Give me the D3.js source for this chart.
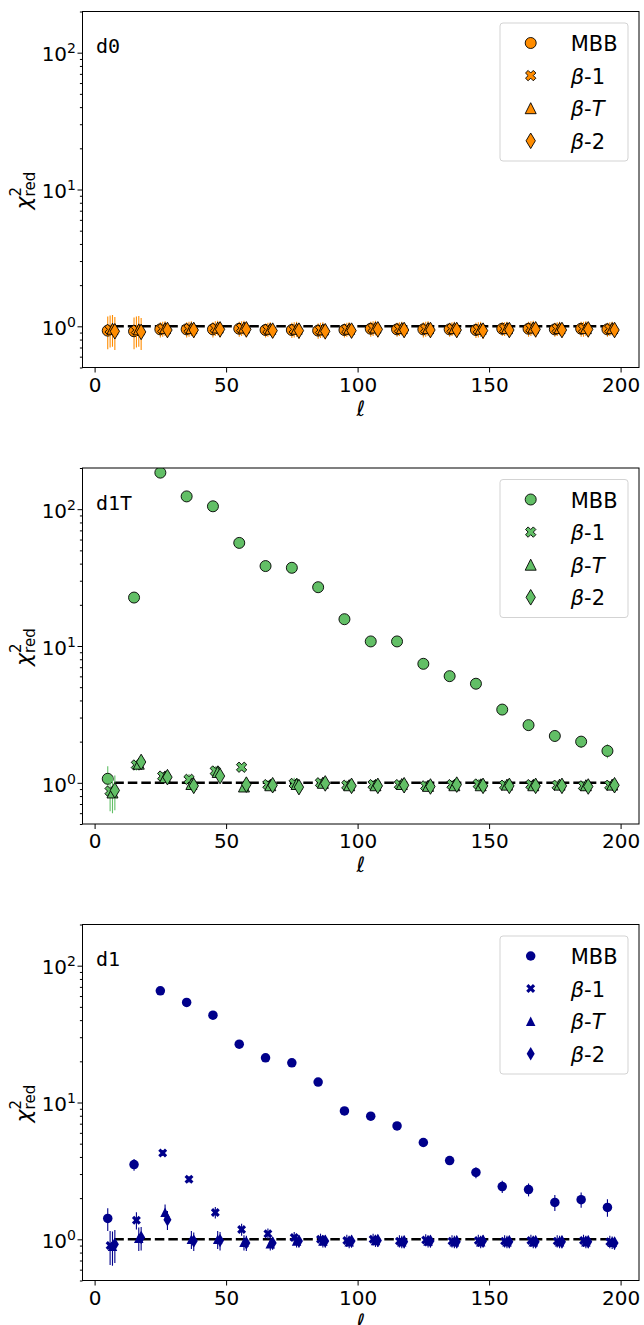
<!DOCTYPE html>
<html>
<head>
<meta charset="utf-8">
<script src="https://cdn.jsdelivr.net/npm/d3@7"></script>
<style>
  body { margin: 0; background: #fff; }
  text { font-family: "DejaVu Sans", sans-serif; fill: #000; }
</style>
</head>
<body>
<div id="chart"></div>
<script>

// multipole bins, the four fits are drawn side by side inside each bin
var ell = [5, 15, 25, 35, 45, 55, 65, 75, 85, 95, 105, 115, 125, 135, 145, 155, 165, 175, 185, 195];
var shift = [0, 0.9, 1.8, 2.7];
var lineEll = [7.5, 198];
var xTicks = [0, 50, 100, 150, 200];
var yMajor = [1, 10, 100];
var yMinor = [0.5, 0.6, 0.7, 0.8, 0.9, 2, 3, 4, 5, 6, 7, 8, 9, 20, 30, 40, 50, 60, 70, 80, 90, 200];
var legendLabels = ["MBB", "β-1", "β-T", "β-2"];
var markerTypes = ["o", "X", "^", "d"];

// d0
var d0_mbb = [0.93, 0.92, 0.95, 0.95, 0.95, 0.96, 0.94, 0.94, 0.93, 0.94, 0.96, 0.95, 0.95, 0.95, 0.94, 0.96, 0.96, 0.95, 0.96, 0.95];
var d0_b1  = [0.95, 0.94, 0.96, 0.96, 0.97, 0.97, 0.95, 0.95, 0.94, 0.95, 0.97, 0.96, 0.96, 0.96, 0.95, 0.96, 0.97, 0.96, 0.96, 0.96];
var d0_bT  = [0.96, 0.95, 0.97, 0.97, 0.98, 0.98, 0.96, 0.96, 0.95, 0.96, 0.98, 0.97, 0.97, 0.97, 0.96, 0.97, 0.98, 0.97, 0.97, 0.97];
var d0_b2  = [0.92, 0.91, 0.94, 0.94, 0.95, 0.95, 0.93, 0.93, 0.92, 0.93, 0.95, 0.94, 0.94, 0.94, 0.93, 0.94, 0.95, 0.94, 0.95, 0.94];
var d0_err = [0.25, 0.24, 0.12, 0.12, 0.12, 0.12, 0.11, 0.12, 0.12, 0.11, 0.12, 0.11, 0.12, 0.11, 0.12, 0.11, 0.12, 0.11, 0.12, 0.11];

// d1T
var d1T_mbb = [1.07, 22.6, 185, 124, 105, 56.7, 38.4, 37.3, 26.9, 15.7, 10.8, 10.8, 7.41, 6.02, 5.30, 3.43, 2.64, 2.20, 2.00, 1.71];
var d1T_mbbErr = [0.25, 1.5, 10, 7, 6, 3, 2, 2, 1.5, 0.9, 0.6, 0.6, 0.45, 0.4, 0.35, 0.25, 0.22, 0.2, 0.2, 0.2];
var d1T_b1 = [0.87, 1.35, 1.12, 1.06, 1.22, 1.30, 0.97, 0.99, 1.00, 0.96, 0.97, 0.97, 0.95, 0.97, 0.98, 0.96, 0.97, 0.96, 0.95, 0.96];
var d1T_bT = [0.85, 1.38, 1.10, 0.98, 1.20, 0.94, 0.96, 0.98, 1.00, 0.96, 0.96, 0.98, 0.95, 0.96, 0.96, 0.97, 0.96, 0.97, 0.96, 0.97];
var d1T_b2 = [0.88, 1.42, 1.10, 0.95, 1.12, 0.97, 0.96, 0.93, 0.99, 0.95, 0.95, 0.96, 0.94, 0.97, 0.95, 0.95, 0.95, 0.95, 0.94, 0.96];
var d1T_err = [0.25, 0.12, 0.08, 0.10, 0.10, 0.07, 0.08, 0.10, 0.07, 0.08, 0.08, 0.08, 0.07, 0.08, 0.08, 0.08, 0.07, 0.08, 0.08, 0.07];

// d1
var d1_mbb = [1.42, 3.52, 65.5, 53.9, 43.5, 26.7, 21.2, 19.5, 14.1, 8.68, 7.94, 6.74, 5.10, 3.76, 3.08, 2.43, 2.31, 1.86, 1.95, 1.71];
var d1_mbbErr = [0.27, 0.35, 3, 2.5, 2, 1.3, 1, 1, 0.7, 0.45, 0.4, 0.35, 0.3, 0.25, 0.28, 0.25, 0.25, 0.25, 0.25, 0.25];
var d1_b1 = [0.90, 1.38, 4.28, 2.75, 1.57, 1.18, 1.10, 1.03, 1.00, 0.98, 1.00, 0.97, 0.99, 0.97, 0.98, 0.97, 0.98, 0.97, 0.98, 0.96];
var d1_bT = [0.89, 1.02, 1.58, 1.00, 1.00, 0.95, 0.93, 0.97, 0.97, 0.96, 0.98, 0.96, 0.97, 0.96, 0.96, 0.96, 0.96, 0.96, 0.96, 0.95];
var d1_b2 = [0.92, 1.03, 1.39, 0.97, 0.98, 0.94, 0.94, 0.97, 0.97, 0.97, 0.98, 0.96, 0.97, 0.96, 0.97, 0.96, 0.96, 0.96, 0.96, 0.94];
var d1_err = [0.25, 0.20, 0.22, 0.15, 0.15, 0.12, 0.10, 0.10, 0.10, 0.10, 0.10, 0.10, 0.10, 0.10, 0.10, 0.10, 0.10, 0.10, 0.10, 0.10];

var panels = [
  {name: "d0", color: "#ff8c00", edge: true, size: 11,
   series: [[d0_mbb, d0_err], [d0_b1, d0_err], [d0_bT, d0_err], [d0_b2, d0_err]]},
  {name: "d1T", color: "#62bf66", edge: true, size: 11,
   series: [[d1T_mbb, d1T_mbbErr], [d1T_b1, d1T_err], [d1T_bT, d1T_err], [d1T_b2, d1T_err]]},
  {name: "d1", color: "#00008b", edge: false, size: 9.5,
   series: [[d1_mbb, d1_mbbErr], [d1_b1, d1_err], [d1_bT, d1_err], [d1_b2, d1_err]]}
];

var L = 82.5, R = 639, H = 356;
var W = R - L;
var tops = [11.5, 468, 924.5];

var svg = d3.select("#chart")
  .append("svg")
    .attr("width", 644)
    .attr("height", 1325);

function markerPath(type, s) {
  var h = s / 2;
  if (type == "o") {
    return "M" + h + ",0A" + h + "," + h + " 0 1,1 " + (-h) + ",0A" + h + "," + h + " 0 1,1 " + h + ",0Z";
  }
  if (type == "^") {
    return "M0," + (-h) + "L" + h + "," + h + "L" + (-h) + "," + h + "Z";
  }
  if (type == "d") {
    return "M0," + (-0.707 * s) + "L" + (0.424 * s) + ",0L0," + (0.707 * s) + "L" + (-0.424 * s) + ",0Z";
  }
  // filled X: a plus turned by 45 degrees
  var a = s / 6, b = s / 2;
  var pts = [[-a,-b],[a,-b],[a,-a],[b,-a],[b,a],[a,a],[a,b],[-a,b],[-a,a],[-b,a],[-b,-a],[-a,-a]];
  return "M" + pts.map(function(p) {
    return ((p[0] - p[1]) / Math.SQRT2).toFixed(2) + "," + ((p[0] + p[1]) / Math.SQRT2).toFixed(2);
  }).join("L") + "Z";
}

panels.forEach(function(p, pi) {
  var top = tops[pi];
  var g = svg.append("g")
    .attr("transform", "translate(" + L + "," + top + ")");

  var x = d3.scaleLinear().domain([-4.6, 207]).range([0, W]);
  var y = d3.scaleLog().domain([0.5, 200]).range([H, 0]);

  g.append("clipPath").attr("id", "clip" + pi)
    .append("rect").attr("width", W).attr("height", H);

  var plot = g.append("g").attr("clip-path", "url(#clip" + pi + ")");

  // reference line at chi2 = 1
  plot.append("line")
    .attr("x1", x(lineEll[0])).attr("x2", x(lineEll[1]))
    .attr("y1", y(1)).attr("y2", y(1))
    .attr("stroke", "#000")
    .attr("stroke-width", 2.6)
    .attr("stroke-dasharray", "9.5,4");

  p.series.forEach(function(s, si) {
    var vals = s[0], errs = s[1];
    var pts = vals.map(function(v, i) { return {l: ell[i] + shift[si], v: v, e: errs[i]}; });

    plot.selectAll(".err" + si)
      .data(pts)
      .enter()
      .append("line")
        .attr("x1", function(d) { return x(d.l); })
        .attr("x2", function(d) { return x(d.l); })
        .attr("y1", function(d) { return y(Math.max(d.v - d.e, 0.3)); })
        .attr("y2", function(d) { return y(d.v + d.e); })
        .attr("stroke", p.color)
        .attr("stroke-width", 1.1);

    plot.selectAll(".mk" + si)
      .data(pts)
      .enter()
      .append("path")
        .attr("d", markerPath(markerTypes[si], p.size))
        .attr("transform", function(d) { return "translate(" + x(d.l) + "," + y(d.v) + ")"; })
        .attr("fill", p.color)
        .attr("stroke", p.edge ? "#000" : "none")
        .attr("stroke-width", 0.9);
  });

  // axes
  var xa = g.append("g")
    .attr("transform", "translate(0," + H + ")")
    .call(d3.axisBottom(x).tickValues(xTicks).tickSize(5).tickPadding(4).tickFormat(d3.format("d")));
  xa.selectAll("text").style("font-size", "20px").attr("dy", "0.75em");

  var ya = g.append("g")
    .call(d3.axisLeft(y).tickValues(yMajor).tickSize(5).tickFormat(""));
  var ym = g.append("g")
    .call(d3.axisLeft(y).tickValues(yMinor).tickSize(2.6).tickFormat(""));
  [xa, ya, ym].forEach(function(a) {
    a.select(".domain").remove();
    a.selectAll("line").attr("stroke", "#000").attr("stroke-width", 1);
  });

  yMajor.forEach(function(v) {
    var t = g.append("text")
      .attr("x", -6.5)
      .attr("y", y(v) + 8.7)
      .attr("text-anchor", "end")
      .style("font-size", "20px");
    t.append("tspan").text("10");
    t.append("tspan").attr("dy", -8).style("font-size", "14px").text(Math.round(Math.log10(v)));
  });

  g.append("rect")
    .attr("width", W).attr("height", H)
    .attr("fill", "none")
    .attr("stroke", "#000")
    .attr("stroke-width", 1);

  // x label
  g.append("text")
    .attr("x", W / 2)
    .attr("y", H + 48)
    .attr("text-anchor", "middle")
    .style("font-size", "21px")
    .style("font-style", "italic")
    .text("ℓ");

  // y label
  var yl = g.append("text")
    .attr("transform", "translate(" + (31 - L) + "," + (H / 2) + ") rotate(-90)")
    .attr("x", -20)
    .style("font-size", "22px");
  yl.append("tspan").style("font-style", "italic").text("χ");
  yl.append("tspan").attr("dy", -10).style("font-size", "15px").text("2");
  yl.append("tspan").attr("dx", -9.5).attr("dy", 14).style("font-size", "15px").text("red");

  // model name
  g.append("text")
    .attr("x", 13.5)
    .attr("y", 41.5)
    .style("font-family", "'DejaVu Sans Mono', monospace")
    .style("font-size", "20px")
    .text(p.name);

  // legend
  var lg = g.append("g").attr("transform", "translate(" + (500 - L) + ",11.5)");
  lg.append("rect")
    .attr("width", 128).attr("height", 138)
    .attr("rx", 3).attr("ry", 3)
    .attr("fill", "#fff").attr("fill-opacity", 0.8)
    .attr("stroke", "#d3d3d3").attr("stroke-width", 1);

  legendLabels.forEach(function(lab, i) {
    var cy = 20 + 32.6 * i;
    lg.append("path")
      .attr("d", markerPath(markerTypes[i], p.size))
      .attr("transform", "translate(30.7," + cy + ")")
      .attr("fill", p.color)
      .attr("stroke", p.edge ? "#000" : "none")
      .attr("stroke-width", 0.9);
    var t = lg.append("text")
      .attr("x", 70.7)
      .attr("y", cy + 8)
      .style("font-size", "21px");
    if (i == 0) {
      t.text(lab);
    } else {
      t.append("tspan").style("font-style", "italic").text("β");
      t.append("tspan").text("-");
      t.append("tspan").style("font-style", i == 2 ? "italic" : "normal").text(lab.slice(2));
    }
  });
});

</script>
</body>
</html>
